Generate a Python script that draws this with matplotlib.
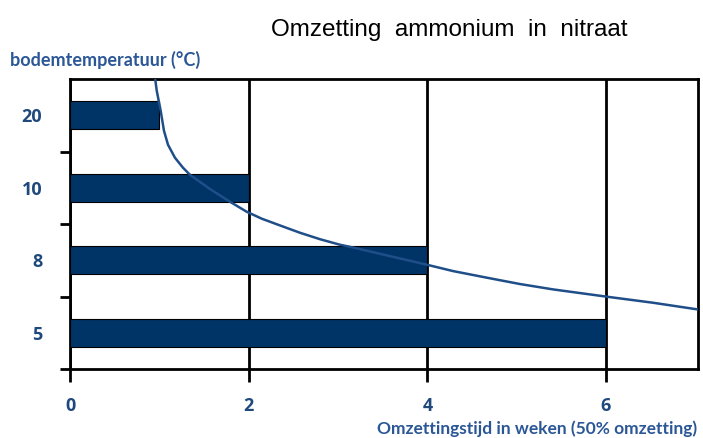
import matplotlib
matplotlib.use("Agg")
import matplotlib.pyplot as plt
from matplotlib.ticker import FixedLocator

plt.rcParams["font.family"] = ["Liberation Sans", "DejaVu Sans"]

# Data
temperatures = ["5", "8", "10", "20"]
weeks = [6, 4, 2, 1]
x_ticks = [0, 2, 4, 6]
# trend curve (x in weeks, y in category-index units)
curve_x = [0.952, 0.971, 1.015, 1.052, 1.097, 1.175, 1.265, 1.343, 1.57, 1.791, 1.978,
           2.149, 2.351, 2.575, 2.799, 3.022, 3.168, 3.996, 4.287, 4.668, 5.037,
           5.407, 6.011, 6.526, 7.052]
curve_y = [3.517, 3.338, 3.062, 2.786, 2.593, 2.414, 2.276, 2.179, 1.98, 1.807, 1.669,
           1.572, 1.480, 1.379, 1.290, 1.214, 1.176, 0.938, 0.851, 0.759, 0.672,
           0.598, 0.497, 0.414, 0.317]

title = "Omzetting  ammonium  in  nitraat"
ylabel = "bodemtemperatuur (\u00b0C)"
xlabel = "Omzettingstijd in weken (50% omzetting)"

bar_color = "#003366"
line_color = "#1f4e89"
tick_color = "#1f497d"
label_color = "#2b5797"

fig = plt.figure(figsize=(7.03, 4.38), dpi=100)
ax = fig.add_axes([70/703, 1-369/438, (698-70)/703, (369-79)/438])

pos = list(range(len(temperatures)))
ax.set_axisbelow(True)
ax.barh(pos, weeks, height=0.39, color=bar_color, edgecolor="black", linewidth=0.8, zorder=3)
ax.plot(curve_x, curve_y, color=line_color, lw=1.8, zorder=4,
        solid_joinstyle="round", solid_capstyle="round")

ax.set_xlim(0, 7.03)
ax.set_ylim(-0.5, 3.5)
tick_font = dict(family="Open Sans", fontweight="bold", fontsize=13, color=tick_color)
ax.set_xticks(x_ticks)
ax.set_xticklabels([str(v) for v in x_ticks], **tick_font)
ax.set_yticks(pos)
ax.set_yticklabels(temperatures, **tick_font)
ax.yaxis.set_minor_locator(FixedLocator([-0.5, 0.5, 1.5, 2.5]))

ax.tick_params(axis="x", which="major", length=9, width=2, direction="out", pad=11, color="black")
ax.tick_params(axis="y", which="major", length=0, pad=20)
ax.tick_params(axis="y", which="minor", length=7, width=2, direction="out", color="black")

ax.grid(axis="x", color="black", lw=2, zorder=1)
for s in ax.spines.values():
    s.set_linewidth(2)
    s.set_color("black")

fig.text(449/703, 1-30/438, title, ha="center", va="center", fontsize=17.5,
         color="black")
fig.text(10/703, 1-60/438, ylabel, ha="left", va="center", fontsize=13,
         family="Lato", fontweight="bold", color=label_color)
fig.text(697/703, 1-429/438, xlabel, ha="right", va="center", fontsize=12.5,
         family="Lato", fontweight="bold", color=label_color)

fig.savefig("out.png", dpi=100)
